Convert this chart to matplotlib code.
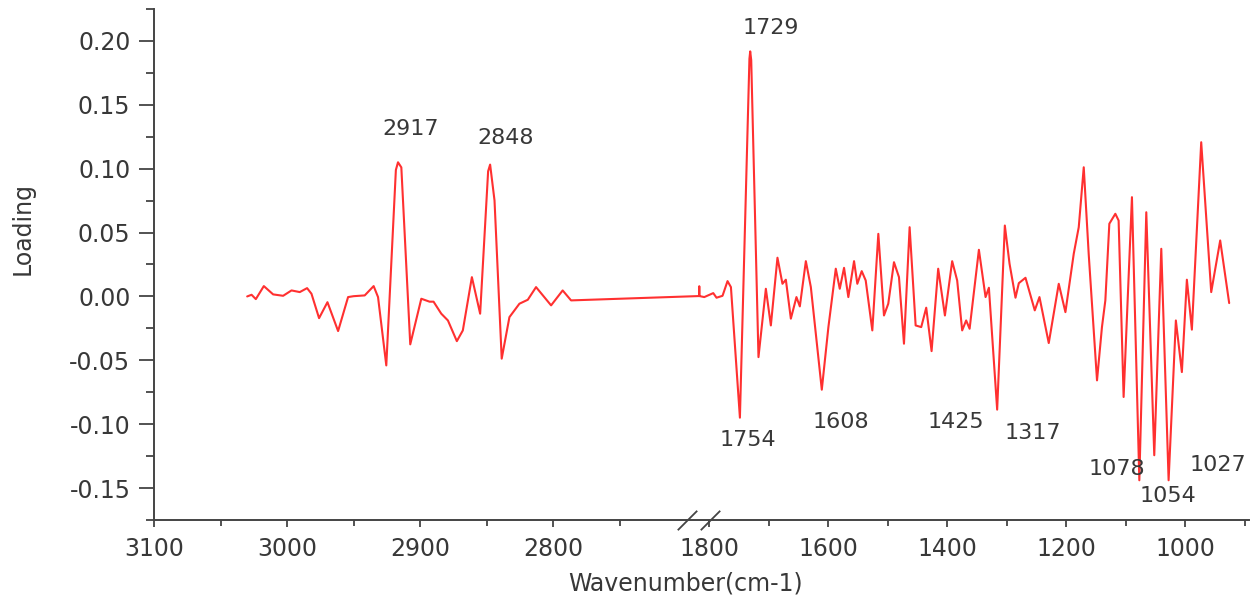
import numpy as np
import matplotlib
matplotlib.use("Agg")
import matplotlib.pyplot as plt

# loading spectrum (x: wavenumber in cm-1)
WAVENUMBER = [
    3030, 3026.7, 3023.5, 3017.5, 3010.5, 3003, 2996.7, 2990.5, 2985, 2981.7,
    2976, 2969.7, 2961.7, 2954.2, 2950, 2941.7, 2935, 2931.7, 2925.5, 2918.3,
    2916.7, 2914.2, 2907.5, 2899.2, 2893, 2890, 2884.2, 2879.2, 2872.5, 2868,
    2861.2, 2855, 2849, 2847.5, 2844.2, 2838.8, 2833, 2825.5, 2819.2, 2813,
    2801.7, 2793, 2786.7,
    1817, 1816.8, 1816.6, 1808.4, 1793.3, 1787.8, 1777.7, 1769.3, 1763.6,
    1748.5, 1732.5, 1731.2, 1729.5, 1717.3, 1704.9, 1696.5, 1685.4, 1677,
    1671.3, 1662.9, 1653.5, 1647.8, 1637.7, 1629.3, 1610.9, 1599.8, 1587.4,
    1580.7, 1573.5, 1566.3, 1556.7, 1551.2, 1543.8, 1537.1, 1526, 1515.9,
    1506.4, 1499.2, 1489.6, 1481.2, 1472.8, 1463.3, 1453.2, 1443.8, 1435.4,
    1426.4, 1415.3, 1404, 1391.8, 1383.4, 1375, 1368.3, 1362.5, 1346.9,
    1335.7, 1330.1, 1316.2, 1303.3, 1295.4, 1285.4, 1279.8, 1268.6, 1253,
    1245.1, 1229.5, 1212.7, 1201.5, 1187.5, 1179.1, 1170.7, 1162.4, 1148.4,
    1140.1, 1134.4, 1127.7, 1117.6, 1112.1, 1103.7, 1089.7, 1077.3, 1065.6,
    1052.2, 1040.4, 1028.1, 1015.9, 1005.8, 997.4, 989, 973.3, 956.5, 941.4,
    926.3,
]
LOADING = [
    0.000, 0.0013, -0.0021, 0.0081, 0.0016, 0.0005, 0.0047, 0.0034, 0.0065, 0.0021,
    -0.017, -0.0045, -0.0271, -0.0005, 0.0002, 0.0008, 0.0081, -0.0005, -0.054, 0.099,
    0.105, 0.101, -0.0375, -0.0018, -0.0041, -0.0041, -0.0135, -0.0188, -0.035, -0.0266,
    0.0151, -0.0135, 0.098, 0.1032, 0.0751, -0.0487, -0.0162, -0.0057, -0.0026, 0.0073,
    -0.007, 0.0047, -0.0031,
    0.0003, 0.008, 0.0003, -0.0005, 0.0026, -0.001, 0.0005, 0.012, 0.0073,
    -0.0949, 0.186, 0.1918, 0.185, -0.0475, 0.006, -0.0227, 0.0303, 0.0099,
    0.0131, -0.0174, -0.0005, -0.0078, 0.0276, 0.0073, -0.073, -0.024, 0.0217,
    0.006, 0.0224, -0.0005, 0.0276, 0.0099, 0.0198, 0.0125, -0.0266, 0.049,
    -0.0149, -0.0057, 0.0268, 0.0151, -0.037, 0.0542, -0.0227, -0.024, -0.0088,
    -0.0428, 0.0217, -0.0149, 0.0276, 0.0125, -0.0266, -0.0188, -0.0253, 0.0365,
    -0.0005, 0.0068, -0.0886, 0.0555, 0.0256, -0.001, 0.0104, 0.0146, -0.0109,
    -0.0005, -0.0365, 0.0099, -0.0123, 0.0334, 0.0542, 0.1011, 0.0334, -0.0657,
    -0.024, -0.0031, 0.0569, 0.0647, 0.0594, -0.0787, 0.0777, -0.1439, 0.0659,
    -0.1243, 0.0373, -0.1439, -0.0188, -0.0592, 0.0131, -0.026, 0.1207, 0.0034, 0.0438,
    -0.0052,
]

PEAK_LABELS = ["2917", "2848", "1729", "1754", "1608", "1425", "1317", "1078", "1054", "1027"]
LABEL_POS = [(2907, 0.131), (2836, 0.124), (1696, 0.210), (1735, -0.112), (1579, -0.098),
             (1386, -0.098), (1256, -0.107), (1115, -0.135), (1030, -0.156), (946, -0.132)]

X_MAJOR = [3100, 3000, 2900, 2800, 1800, 1600, 1400, 1200, 1000]
X_MINOR = [3050, 2950, 2850, 2750, 1700, 1500, 1300, 1100, 900]
Y_MAJOR = [-0.15, -0.10, -0.05, 0.00, 0.05, 0.10, 0.15, 0.20]
Y_MINOR = [-0.175, -0.125, -0.075, -0.025, 0.025, 0.075, 0.125, 0.175, 0.225]

# broken axis: 3100-2700 stretched, 2700-1817 squeezed into a small gap
RIGHT_START = 1817.0
GAP_U = 21.3
LEFT_SCALE = 2.237
LEFT_START = RIGHT_START + GAP_U


def fwd(x):
    x = np.asarray(x, dtype=float)
    gap = RIGHT_START + (x - RIGHT_START) * GAP_U / (2700 - RIGHT_START)
    left = LEFT_START + (x - 2700) * LEFT_SCALE
    return np.where(x <= RIGHT_START, x, np.where(x <= 2700, gap, left))


def inv(u):
    u = np.asarray(u, dtype=float)
    gap = RIGHT_START + (u - RIGHT_START) * (2700 - RIGHT_START) / GAP_U
    left = 2700 + (u - LEFT_START) / LEFT_SCALE
    return np.where(u <= RIGHT_START, u, np.where(u <= LEFT_START, gap, left))


TEXT = "#383838"
plt.rcParams["font.family"] = ["DejaVu Sans"]

fig = plt.figure(figsize=(12.51, 5.98), dpi=100)
ax = fig.add_axes([0.1231, 0.1304, 0.8753, 0.8546])
ax.set_xscale("function", functions=(fwd, inv))

ax.plot(WAVENUMBER, LOADING, color="#ff3030", lw=1.5,
        solid_joinstyle="round", solid_capstyle="round")
ax.set_xlim(3100, 893)
ax.set_ylim(-0.175, 0.225)

for lab, (lx, ly) in zip(PEAK_LABELS, LABEL_POS):
    ax.text(lx, ly, lab, ha="center", va="center", fontsize=16, color=TEXT)

ax.set_xticks(X_MAJOR)
ax.set_xticklabels([str(v) for v in X_MAJOR])
ax.set_xticks(X_MINOR, minor=True)
ax.set_yticks(Y_MAJOR)
ax.set_yticklabels(["%.2f" % v for v in Y_MAJOR])
ax.set_yticks(Y_MINOR, minor=True)

for side in ("top", "right"):
    ax.spines[side].set_visible(False)
for side in ("left", "bottom"):
    ax.spines[side].set_color("#444444")
    ax.spines[side].set_linewidth(1.4)

ax.tick_params(axis="x", which="major", length=5, width=1.3, pad=7,
               labelsize=17, colors="#444444", labelcolor=TEXT)
ax.tick_params(axis="x", which="minor", length=4, width=1.3, colors="#444444")
ax.tick_params(axis="y", which="major", length=11, width=1.3, pad=6,
               labelsize=17, colors="#444444", labelcolor=TEXT)
ax.tick_params(axis="y", which="minor", length=6, width=1.3, colors="#444444")

# break marks on the x axis
ax.plot([2698, 1798], [-0.175, -0.175], ls="none", marker=[(-1, -1), (1, 1)],
        ms=14, mew=1.3, color="#444444", clip_on=False)

ax.set_xlabel("Wavenumber(cm-1)", fontsize=17, color=TEXT)
ax.xaxis.set_label_coords(0.485, -0.1)
ax.set_ylabel("Loading", fontsize=17, color=TEXT)
ax.yaxis.set_label_coords(-0.109, 0.571)

fig.savefig("out.png", dpi=100)
